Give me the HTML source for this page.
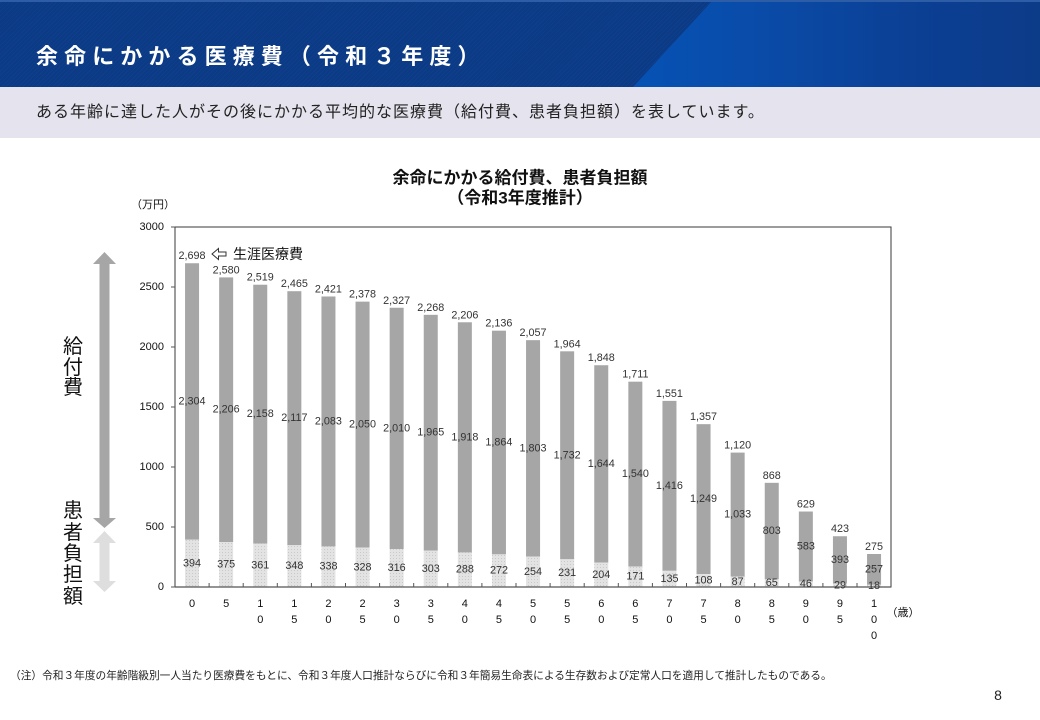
<!DOCTYPE html>
<html lang="ja">
<head>
<meta charset="utf-8">
<style>
  html,body{margin:0;padding:0;}
  body{width:1040px;height:720px;position:relative;overflow:hidden;background:#fff;
       font-family:"Liberation Sans","Noto Sans CJK JP",sans-serif;}
  .hdr{position:absolute;left:0;top:0;width:1040px;height:87px;
       background:repeating-linear-gradient(135deg,#0c3a84 0px,#0c3a84 2px,#0e3f8c 2px,#0e3f8c 3px);}
  .hdr .light{position:absolute;left:0;top:0;width:1040px;height:87px;
       background:linear-gradient(90deg,#0652b4 0px,#0652b4 640px,#0a4aa6 780px,#0b3f93 920px,#0c3b88 1040px);
       clip-path:polygon(713px 0,1040px 0,1040px 87px,633px 87px);}
  .hdr .topline{position:absolute;left:0;top:0;width:1040px;height:2px;background:#2c5da6;}
  .hdr .t{position:absolute;left:36px;top:42px;line-height:30px;height:30px;color:#fff;font-weight:bold;
       font-size:22px;letter-spacing:6.1px;white-space:nowrap;}
  .sub{position:absolute;left:0;top:87px;width:1040px;height:51px;background:#e4e3ee;}
  .sub .s{position:absolute;left:36px;top:14px;line-height:24px;font-size:16px;letter-spacing:1.0px;color:#222;white-space:nowrap;}
  svg{position:absolute;left:0;top:0;}
  .n{font-family:"Liberation Sans",sans-serif;font-size:10.8px;fill:#333;text-anchor:middle;dominant-baseline:central;}
  .ax{font-family:"Liberation Sans",sans-serif;font-size:11px;fill:#111;dominant-baseline:central;}
  .xl{font-family:"Liberation Sans",sans-serif;font-size:11px;fill:#111;text-anchor:middle;dominant-baseline:central;}
  .jp{font-family:"Liberation Sans","Noto Sans CJK JP",sans-serif;}
</style>
</head>
<body>
<div class="hdr">
  <div class="light"></div>
  <div class="topline"></div>
  <div class="t">余命にかかる医療費（令和３年度）</div>
</div>
<div class="sub"><div class="s">ある年齢に達した人がその後にかかる平均的な医療費（給付費、患者負担額）を表しています。</div></div>

<svg width="1040" height="720" viewBox="0 0 1040 720" xmlns="http://www.w3.org/2000/svg" style="top:0;left:0;pointer-events:none">
  <defs>
    <pattern id="dots" width="3" height="3" patternUnits="userSpaceOnUse">
      <rect width="3" height="3" fill="#e3e3e3"/>
      <rect x="0" y="0" width="1" height="1" fill="#c9c9c9"/>
    </pattern>
  </defs>

  <!-- chart title -->
  <text class="jp" x="520" y="178" font-size="17" font-weight="bold" fill="#111" text-anchor="middle" dominant-baseline="central">余命にかかる給付費、患者負担額</text>
  <text class="jp" x="520" y="198" font-size="17" font-weight="bold" fill="#111" text-anchor="middle" dominant-baseline="central">（令和3年度推計）</text>

  <!-- unit -->
  <text class="jp" x="153" y="205" font-size="11" fill="#111" text-anchor="middle" dominant-baseline="central">（万円）</text>

  <!-- left arrows -->
  <polygon points="104.5,252 116,264 109.5,264 109.5,518 116,518 104.5,528 93,518 99.5,518 99.5,264 93,264" fill="#a6a6a6"/>
  <polygon points="104.5,531 116,543 109.5,543 109.5,581 116,581 104.5,592 93,581 99.5,581 99.5,543 93,543" fill="#dedede"/>

  <g class="jp" font-size="20" fill="#111" text-anchor="middle" dominant-baseline="central">
    <text x="73" y="347">給</text>
    <text x="73" y="368">付</text>
    <text x="73" y="388">費</text>
    <text x="73" y="511">患</text>
    <text x="73" y="533">者</text>
    <text x="73" y="554">負</text>
    <text x="73" y="575">担</text>
    <text x="73" y="597">額</text>
  </g>

  <!-- plot frame -->
  <rect x="175" y="227" width="716" height="360" fill="none" stroke="#3a3a3a" stroke-width="1"/>

  <!-- y ticks & labels -->
  <g stroke="#555" stroke-width="1">
    <line x1="171" y1="227" x2="175" y2="227"/>
    <line x1="171" y1="287" x2="175" y2="287"/>
    <line x1="171" y1="347" x2="175" y2="347"/>
    <line x1="171" y1="407" x2="175" y2="407"/>
    <line x1="171" y1="467" x2="175" y2="467"/>
    <line x1="171" y1="527" x2="175" y2="527"/>
    <line x1="171" y1="587" x2="175" y2="587"/>
  </g>
  <g class="ax" text-anchor="end">
    <text x="164" y="227">3000</text>
    <text x="164" y="287">2500</text>
    <text x="164" y="347">2000</text>
    <text x="164" y="407">1500</text>
    <text x="164" y="467">1000</text>
    <text x="164" y="527">500</text>
    <text x="164" y="587">0</text>
  </g>

  <!-- bars -->
  <g>
    <rect x="185.05" y="263.24" width="14" height="276.48" fill="#a6a6a6"/><rect x="185.05" y="539.72" width="14" height="47.28" fill="url(#dots)"/>
    <rect x="219.15" y="277.4" width="14" height="264.6" fill="#a6a6a6"/><rect x="219.15" y="542" width="14" height="45" fill="url(#dots)"/>
    <rect x="253.25" y="284.72" width="14" height="258.96" fill="#a6a6a6"/><rect x="253.25" y="543.68" width="14" height="43.32" fill="url(#dots)"/>
    <rect x="287.35" y="291.2" width="14" height="254.04" fill="#a6a6a6"/><rect x="287.35" y="545.24" width="14" height="41.76" fill="url(#dots)"/>
    <rect x="321.45" y="296.48" width="14" height="249.96" fill="#a6a6a6"/><rect x="321.45" y="546.44" width="14" height="40.56" fill="url(#dots)"/>
    <rect x="355.55" y="301.64" width="14" height="246" fill="#a6a6a6"/><rect x="355.55" y="547.64" width="14" height="39.36" fill="url(#dots)"/>
    <rect x="389.65" y="307.76" width="14" height="241.32" fill="#a6a6a6"/><rect x="389.65" y="549.08" width="14" height="37.92" fill="url(#dots)"/>
    <rect x="423.75" y="314.84" width="14" height="235.8" fill="#a6a6a6"/><rect x="423.75" y="550.64" width="14" height="36.36" fill="url(#dots)"/>
    <rect x="457.85" y="322.28" width="14" height="230.16" fill="#a6a6a6"/><rect x="457.85" y="552.44" width="14" height="34.56" fill="url(#dots)"/>
    <rect x="491.95" y="330.68" width="14" height="223.68" fill="#a6a6a6"/><rect x="491.95" y="554.36" width="14" height="32.64" fill="url(#dots)"/>
    <rect x="526.05" y="340.16" width="14" height="216.36" fill="#a6a6a6"/><rect x="526.05" y="556.52" width="14" height="30.48" fill="url(#dots)"/>
    <rect x="560.15" y="351.32" width="14" height="207.96" fill="#a6a6a6"/><rect x="560.15" y="559.28" width="14" height="27.72" fill="url(#dots)"/>
    <rect x="594.25" y="365.24" width="14" height="197.28" fill="#a6a6a6"/><rect x="594.25" y="562.52" width="14" height="24.48" fill="url(#dots)"/>
    <rect x="628.35" y="381.68" width="14" height="184.8" fill="#a6a6a6"/><rect x="628.35" y="566.48" width="14" height="20.52" fill="url(#dots)"/>
    <rect x="662.45" y="400.88" width="14" height="169.92" fill="#a6a6a6"/><rect x="662.45" y="570.8" width="14" height="16.2" fill="url(#dots)"/>
    <rect x="696.55" y="424.16" width="14" height="149.88" fill="#a6a6a6"/><rect x="696.55" y="574.04" width="14" height="12.96" fill="url(#dots)"/>
    <rect x="730.65" y="452.6" width="14" height="123.96" fill="#a6a6a6"/><rect x="730.65" y="576.56" width="14" height="10.44" fill="url(#dots)"/>
    <rect x="764.75" y="482.84" width="14" height="96.36" fill="#a6a6a6"/><rect x="764.75" y="579.2" width="14" height="7.8" fill="url(#dots)"/>
    <rect x="798.85" y="511.52" width="14" height="69.96" fill="#a6a6a6"/><rect x="798.85" y="581.48" width="14" height="5.52" fill="url(#dots)"/>
    <rect x="832.95" y="536.24" width="14" height="47.28" fill="#a6a6a6"/><rect x="832.95" y="583.52" width="14" height="3.48" fill="url(#dots)"/>
    <rect x="867.05" y="554" width="14" height="30.84" fill="#a6a6a6"/><rect x="867.05" y="584.84" width="14" height="2.16" fill="url(#dots)"/>
  </g>

  <!-- bottom axis & ticks -->
  <line x1="175" y1="587" x2="891" y2="587" stroke="#555" stroke-width="1.3"/>
  <g stroke="#555" stroke-width="1">
    <line x1="209.1" y1="583" x2="209.1" y2="587"/>
    <line x1="243.2" y1="583" x2="243.2" y2="587"/>
    <line x1="277.3" y1="583" x2="277.3" y2="587"/>
    <line x1="311.4" y1="583" x2="311.4" y2="587"/>
    <line x1="345.5" y1="583" x2="345.5" y2="587"/>
    <line x1="379.6" y1="583" x2="379.6" y2="587"/>
    <line x1="413.7" y1="583" x2="413.7" y2="587"/>
    <line x1="447.8" y1="583" x2="447.8" y2="587"/>
    <line x1="481.9" y1="583" x2="481.9" y2="587"/>
    <line x1="516" y1="583" x2="516" y2="587"/>
    <line x1="550.1" y1="583" x2="550.1" y2="587"/>
    <line x1="584.2" y1="583" x2="584.2" y2="587"/>
    <line x1="618.3" y1="583" x2="618.3" y2="587"/>
    <line x1="652.4" y1="583" x2="652.4" y2="587"/>
    <line x1="686.5" y1="583" x2="686.5" y2="587"/>
    <line x1="720.6" y1="583" x2="720.6" y2="587"/>
    <line x1="754.7" y1="583" x2="754.7" y2="587"/>
    <line x1="788.8" y1="583" x2="788.8" y2="587"/>
    <line x1="822.9" y1="583" x2="822.9" y2="587"/>
    <line x1="857" y1="583" x2="857" y2="587"/>
  </g>

  <!-- total labels -->
  <g class="n">
    <text x="192.05" y="256.24">2,698</text>
    <text x="226.15" y="270.4">2,580</text>
    <text x="260.25" y="277.72">2,519</text>
    <text x="294.35" y="284.2">2,465</text>
    <text x="328.45" y="289.48">2,421</text>
    <text x="362.55" y="294.64">2,378</text>
    <text x="396.65" y="300.76">2,327</text>
    <text x="430.75" y="307.84">2,268</text>
    <text x="464.85" y="315.28">2,206</text>
    <text x="498.95" y="323.68">2,136</text>
    <text x="533.05" y="333.16">2,057</text>
    <text x="567.15" y="344.32">1,964</text>
    <text x="601.25" y="358.24">1,848</text>
    <text x="635.35" y="374.68">1,711</text>
    <text x="669.45" y="393.88">1,551</text>
    <text x="703.55" y="417.16">1,357</text>
    <text x="737.65" y="445.6">1,120</text>
    <text x="771.75" y="475.84">868</text>
    <text x="805.85" y="504.52">629</text>
    <text x="839.95" y="529.24">423</text>
    <text x="874.05" y="547">275</text>
  </g>
  <!-- benefit labels -->
  <g class="n">
    <text x="192.05" y="401.48">2,304</text>
    <text x="226.15" y="409.7">2,206</text>
    <text x="260.25" y="414.2">2,158</text>
    <text x="294.35" y="418.22">2,117</text>
    <text x="328.45" y="421.46">2,083</text>
    <text x="362.55" y="424.64">2,050</text>
    <text x="396.65" y="428.42">2,010</text>
    <text x="430.75" y="432.74">1,965</text>
    <text x="464.85" y="437.36">1,918</text>
    <text x="498.95" y="442.52">1,864</text>
    <text x="533.05" y="448.34">1,803</text>
    <text x="567.15" y="455.3">1,732</text>
    <text x="601.25" y="463.88">1,644</text>
    <text x="635.35" y="474.08">1,540</text>
    <text x="669.45" y="485.84">1,416</text>
    <text x="703.55" y="499.1">1,249</text>
    <text x="737.65" y="514.58">1,033</text>
    <text x="771.75" y="531.02">803</text>
    <text x="805.85" y="546.5">583</text>
    <text x="839.95" y="559.88">393</text>
    <text x="874.05" y="569.42">257</text>
  </g>
  <!-- patient labels -->
  <g class="n">
    <text x="192.05" y="563.36">394</text>
    <text x="226.15" y="564.5">375</text>
    <text x="260.25" y="565.34">361</text>
    <text x="294.35" y="566.12">348</text>
    <text x="328.45" y="566.72">338</text>
    <text x="362.55" y="567.32">328</text>
    <text x="396.65" y="568.04">316</text>
    <text x="430.75" y="568.82">303</text>
    <text x="464.85" y="569.72">288</text>
    <text x="498.95" y="570.68">272</text>
    <text x="533.05" y="571.76">254</text>
    <text x="567.15" y="573.14">231</text>
    <text x="601.25" y="574.76">204</text>
    <text x="635.35" y="576.74">171</text>
    <text x="669.45" y="578.9">135</text>
    <text x="703.55" y="580.52">108</text>
    <text x="737.65" y="581.78">87</text>
    <text x="771.75" y="583.1">65</text>
    <text x="805.85" y="584.24">46</text>
    <text x="839.95" y="585.26">29</text>
    <text x="874.05" y="585.92">18</text>
  </g>

  <!-- x labels -->
  <g class="xl">
    <text x="192.05" y="604">0</text>
    <text x="226.15" y="604">5</text>
    <text x="260.25" y="604">1</text><text x="260.25" y="620">0</text>
    <text x="294.35" y="604">1</text><text x="294.35" y="620">5</text>
    <text x="328.45" y="604">2</text><text x="328.45" y="620">0</text>
    <text x="362.55" y="604">2</text><text x="362.55" y="620">5</text>
    <text x="396.65" y="604">3</text><text x="396.65" y="620">0</text>
    <text x="430.75" y="604">3</text><text x="430.75" y="620">5</text>
    <text x="464.85" y="604">4</text><text x="464.85" y="620">0</text>
    <text x="498.95" y="604">4</text><text x="498.95" y="620">5</text>
    <text x="533.05" y="604">5</text><text x="533.05" y="620">0</text>
    <text x="567.15" y="604">5</text><text x="567.15" y="620">5</text>
    <text x="601.25" y="604">6</text><text x="601.25" y="620">0</text>
    <text x="635.35" y="604">6</text><text x="635.35" y="620">5</text>
    <text x="669.45" y="604">7</text><text x="669.45" y="620">0</text>
    <text x="703.55" y="604">7</text><text x="703.55" y="620">5</text>
    <text x="737.65" y="604">8</text><text x="737.65" y="620">0</text>
    <text x="771.75" y="604">8</text><text x="771.75" y="620">5</text>
    <text x="805.85" y="604">9</text><text x="805.85" y="620">0</text>
    <text x="839.95" y="604">9</text><text x="839.95" y="620">5</text>
    <text x="874.05" y="604">1</text><text x="874.05" y="620">0</text><text x="874.05" y="636">0</text>
  </g>
  <text class="jp" x="903" y="613" font-size="11" fill="#111" text-anchor="middle" dominant-baseline="central">（歳）</text>

  <!-- lifetime annotation -->
  <polygon points="212,254 218.5,248.5 218.5,252 226,252 226,256 218.5,256 218.5,259.5" fill="#fff" stroke="#333" stroke-width="1"/>
  <text class="jp" x="233" y="254" font-size="14" fill="#111" dominant-baseline="central">生涯医療費</text>

  <!-- footnote -->
  <text class="jp" x="10" y="676" font-size="10.7" fill="#222" dominant-baseline="central">（注）令和３年度の年齢階級別一人当たり医療費をもとに、令和３年度人口推計ならびに令和３年簡易生命表による生存数および定常人口を適用して推計したものである。</text>
  <text x="998" y="695" font-family="Liberation Sans, sans-serif" font-size="14" fill="#222" text-anchor="middle" dominant-baseline="central">8</text>
</svg>
</body>
</html>
